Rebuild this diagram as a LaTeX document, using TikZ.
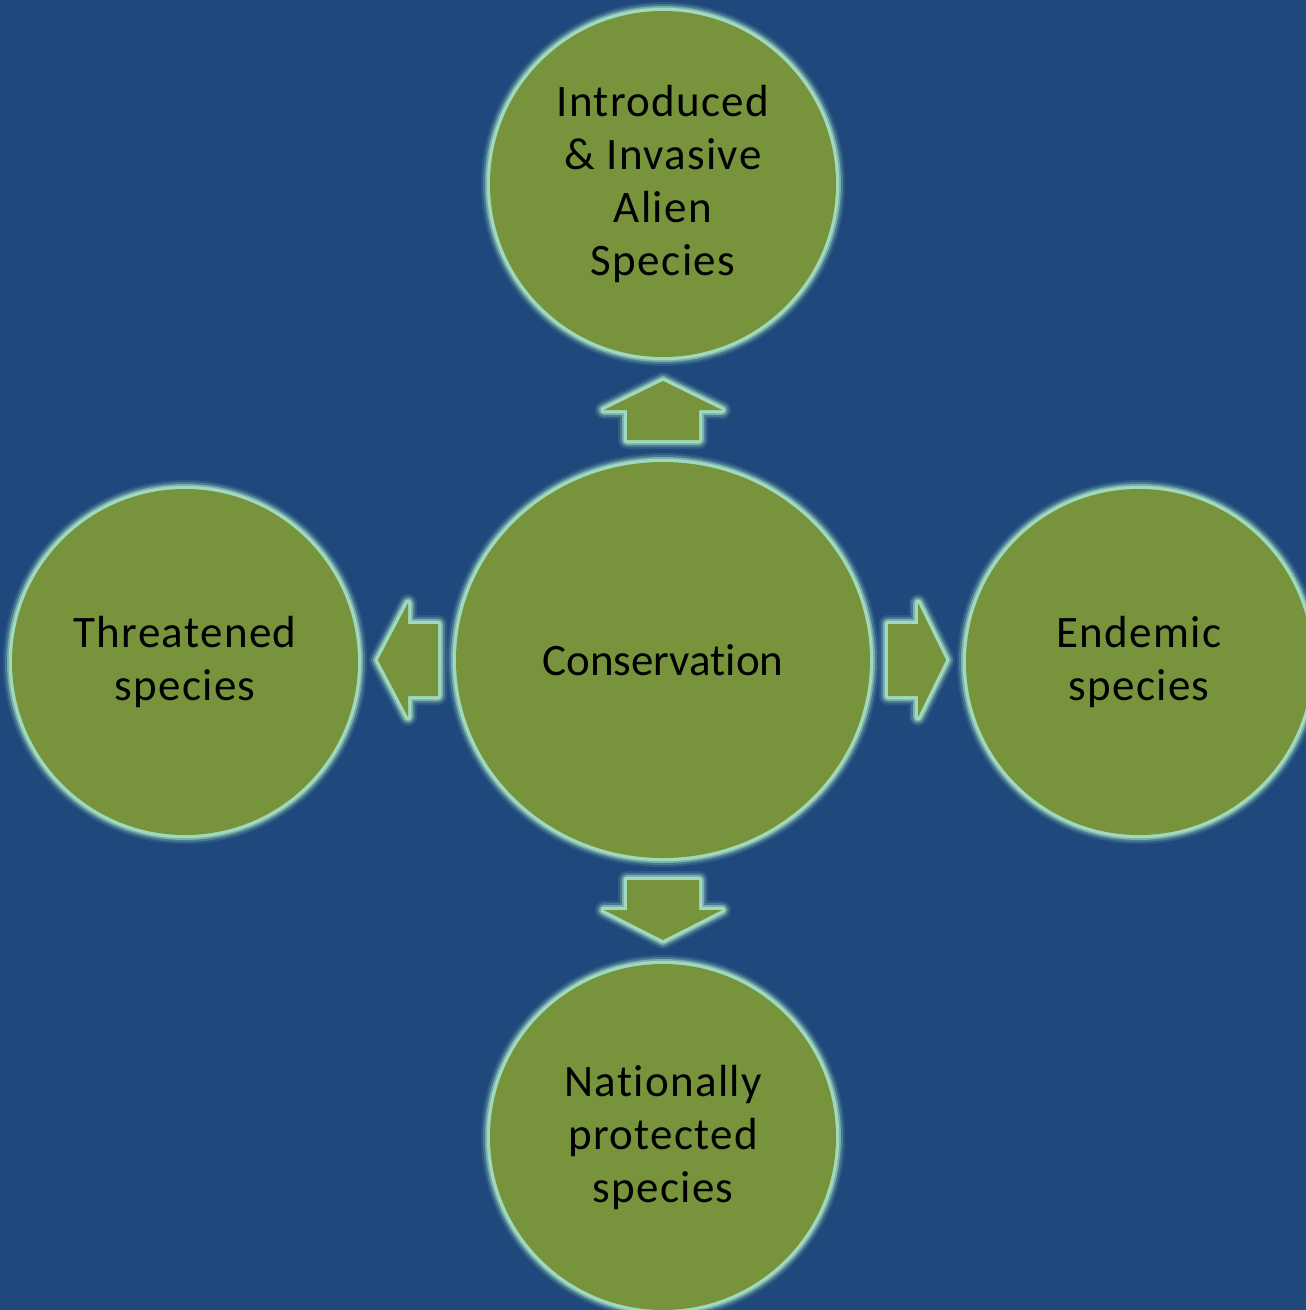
\documentclass[tikz,border=0pt]{standalone}
\usepackage{fontspec}
\setmainfont{Carlito}[Ligatures=NoCommon,LetterSpace=3]
\newfontfamily\plaincarlito{Carlito}[Ligatures=NoCommon]
\usetikzlibrary{shapes.geometric}
\definecolor{bgblue}{RGB}{31,73,125}
\definecolor{leaf}{RGB}{119,147,60}
\definecolor{glowc}{RGB}{160,218,190}
\tikzset{
  glowshape/.style={fill=leaf, line join=round,
    preaction={draw=glowc, line join=round, line width=18pt, draw opacity=0.12},
    preaction={draw=glowc, line join=round, line width=14pt, draw opacity=0.25},
    preaction={draw=glowc, line join=round, line width=10pt, draw opacity=0.55},
    preaction={draw=glowc, line join=round, line width=6.5pt, draw opacity=1}},
  bubble/.style={circle, glowshape, minimum size=346pt, inner sep=0pt,
    align=center, font=\fontsize{45}{53}\selectfont, text=black},
  centre/.style={ellipse, glowshape, minimum width=414pt, minimum height=396pt,
    inner sep=0pt, align=center, font=\plaincarlito\fontsize{45}{53}\selectfont, text=black}
}
\begin{document}
\begin{tikzpicture}[x=1pt,y=-1pt]
\useasboundingbox (0,0) rectangle (1306,1310);
\fill[bgblue] (0,0) rectangle (1306,1310);
% circles
\node[bubble] (alien) at (663,184) {Introduced\\\& Invasive\\Alien\\Species};
\node[centre] (cons) at (663,660) {Conservation};
\node[bubble] (threat) at (185,662) {Threatened\\species};
\node[bubble] (endem) at (1139,662) {Endemic\\species};
\node[bubble] (nat) at (663,1137) {Nationally\\protected\\species};
% block arrows
\path[glowshape] (663,381) -- (722,410) -- (699,410) -- (699,440) -- (627,440) -- (627,410) -- (604,410) -- cycle;
\path[glowshape] (663,940) -- (722,910) -- (699,910) -- (699,880) -- (627,880) -- (627,910) -- (604,910) -- cycle;
\path[glowshape] (378,660) -- (408,603) -- (408,624) -- (438,624) -- (438,696) -- (408,696) -- (408,717) -- cycle;
\path[glowshape] (946,660) -- (918,603) -- (918,624) -- (888,624) -- (888,696) -- (918,696) -- (918,717) -- cycle;
\end{tikzpicture}
\end{document}
